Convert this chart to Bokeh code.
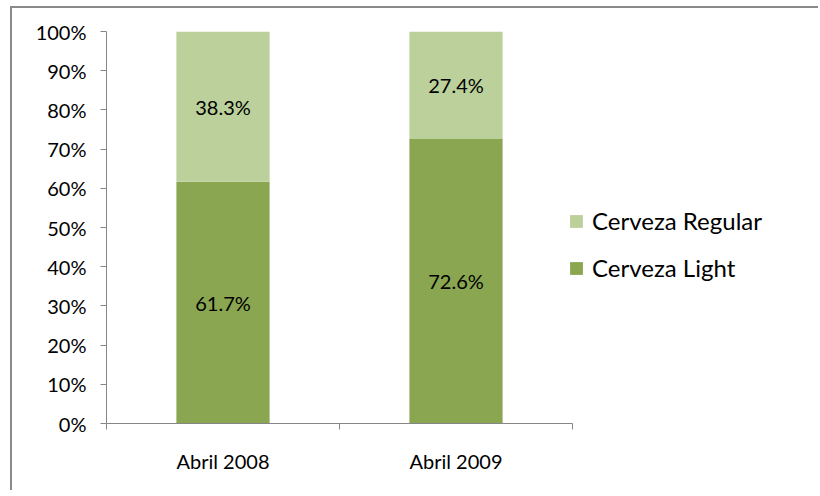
from bokeh.plotting import figure
from bokeh.models import (Range1d, FixedTicker, NumeralTickFormatter, Legend, LegendItem,
                          ColumnDataSource)
from bokeh.core.properties import value
from bokeh.embed import file_html
from bokeh.resources import INLINE

categories = ["Abril 2008", "Abril 2009"]
light = [0.617, 0.726]
regular = [0.383, 0.274]
series_names = ["Cerveza Regular", "Cerveza Light"]
y_ticks = [0, 0.1, 0.2, 0.3, 0.4, 0.5, 0.6, 0.7, 0.8, 0.9, 1.0]

C_LIGHT = "#8AA650"
C_REG = "#BBD09A"
AXIS = "#868686"
FONT = "Lato"

n = len(categories)
xs = [i + 0.5 for i in range(n)]
src = ColumnDataSource(dict(
    x=xs,
    light=light,
    regular=regular,
    top_reg=[a + b for a, b in zip(light, regular)],
    y_light=[a / 2 for a in light],
    y_reg=[a + b / 2 for a, b in zip(light, regular)],
    t_light=["%.1f%%" % (a * 100) for a in light],
    t_reg=["%.1f%%" % (b * 100) for b in regular],
))

p = figure(width=808, height=484, output_backend="svg", toolbar_location=None,
           x_range=Range1d(0, n + 1), y_range=Range1d(0, 1),
           min_border_left=94, min_border_top=23, min_border_right=15, min_border_bottom=69,
           styles={"margin-left": "10px", "margin-top": "6px",
                   "border-left": "2px solid #8a8a8a", "border-top": "2px solid #8a8a8a",
                   "border-right": "none", "border-bottom": "none"})
p.outline_line_color = None
p.grid.visible = False
p.background_fill_color = "white"

r_light = p.vbar(x="x", width=0.4, bottom=0, top="light", source=src,
                 fill_color=C_LIGHT, line_color=None)
r_reg = p.vbar(x="x", width=0.4, bottom="light", top="top_reg", source=src,
               fill_color=C_REG, line_color=None)

p.text(x="x", y="y_light", text="t_light", source=src, text_align="center",
       text_baseline="middle", text_font=value(FONT), text_font_size="20px", text_color="black")
p.text(x="x", y="y_reg", text="t_reg", source=src, text_align="center",
       text_baseline="middle", text_font=value(FONT), text_font_size="20px", text_color="black")

# y axis
ya = p.yaxis[0]
ya.ticker = FixedTicker(ticks=y_ticks)
ya.formatter = NumeralTickFormatter(format="0%")
ya.axis_line_color = AXIS
ya.major_tick_line_color = AXIS
ya.major_tick_out = 6
ya.major_tick_in = 0
ya.minor_tick_line_color = None
ya.major_label_standoff = 14
ya.major_label_text_font = FONT
ya.major_label_text_font_size = "20px"
ya.major_label_text_color = "black"

# x axis
xa = p.xaxis[0]
xa.bounds = (0, n)
xa.ticker = FixedTicker(ticks=xs, minor_ticks=list(range(n + 1)))
xa.major_label_overrides = {x: c for x, c in zip(xs, categories)}
xa.axis_line_color = AXIS
xa.major_tick_line_color = None
xa.major_tick_out = 0
xa.major_tick_in = 0
xa.minor_tick_line_color = AXIS
xa.minor_tick_out = 6
xa.minor_tick_in = 0
xa.major_label_standoff = 19
xa.major_label_text_font = FONT
xa.major_label_text_font_size = "20px"
xa.major_label_text_color = "black"

legend = Legend(items=[LegendItem(label=series_names[0], renderers=[r_reg]),
                       LegendItem(label=series_names[1], renderers=[r_light])],
                location=(462, 141), orientation="vertical",
                glyph_width=16, glyph_height=16, label_height=22, spacing=18,
                label_standoff=8, padding=0, margin=0,
                border_line_color=None, background_fill_alpha=0,
                label_text_font=FONT, label_text_font_size="24px", label_text_color="black")
p.add_layout(legend, "center")

open("out.html", "w").write(file_html(p, INLINE))
